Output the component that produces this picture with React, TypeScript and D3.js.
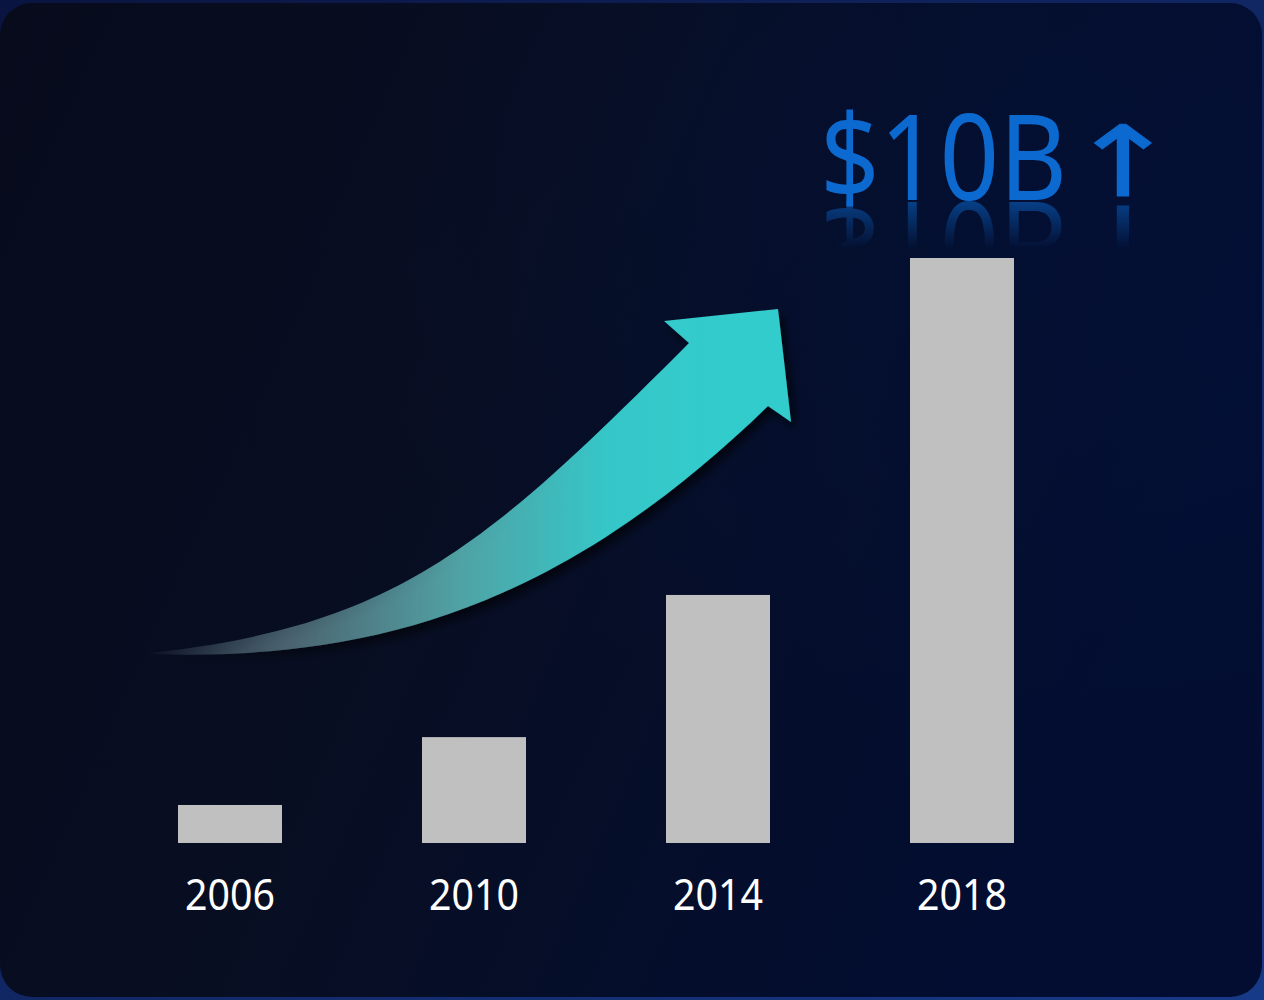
import * as d3 from "d3";
import React from "react";

// chart data
const years = ["2006", "2010", "2014", "2018"];
const revenue = [0.65, 1.81, 4.24, 10]; // $B
const headline = "$10B";

const W = 1264;
const H = 1000;
const baseY = 843; // bar baseline, pixels
const topY = 258;

export default function App() {
  const x = d3.scaleBand<string>().domain(years).range([38, 1154]).padding(0.5738);
  const y = d3.scaleLinear().domain([0, 10]).range([baseY, topY]);

  // decorative growth arrow
  const p = d3.path();
  p.moveTo(147, 653);
  p.bezierCurveTo(397, 628, 489, 543, 689, 343);
  p.lineTo(664, 321);
  p.lineTo(778, 309);
  p.lineTo(791, 422);
  p.lineTo(768, 406);
  p.bezierCurveTo(552, 616, 360, 661, 147, 654);
  p.closePath();
  const arrowPath = p.toString();

  const mirror = 201; // baseline of the headline reflection
  const upX = 1123;

  const headlineText = (
    <>
      <text x={820} y={200} fontSize={119} textLength={247} lengthAdjust="spacingAndGlyphs">
        {headline}
      </text>
      <text
        x={upX}
        y={196}
        fontSize={98}
        textAnchor="middle"
        fontFamily="'DejaVu Sans', sans-serif"
        stroke="#0b69cf"
        strokeWidth={1}
        transform={`translate(${upX},0) scale(1.35,1) translate(${-upX},0)`}
      >
        ↑
      </text>
    </>
  );

  return (
    <div style={{ position: "absolute", left: 0, top: 0 }}>
      <svg width={W} height={H} viewBox={`0 0 ${W} ${H}`} style={{ display: "block" }}>
        <defs>
          <linearGradient id="outer" x1="0" y1="0" x2="1" y2="1">
            <stop offset="0%" stopColor="#0a1440" />
            <stop offset="100%" stopColor="#173a88" />
          </linearGradient>
          <linearGradient id="card" x1="0" y1="0" x2="1" y2="0.35">
            <stop offset="0%" stopColor="#070b1c" />
            <stop offset="45%" stopColor="#080e22" />
            <stop offset="100%" stopColor="#020d31" />
          </linearGradient>
          <radialGradient id="glow" cx="0.85" cy="0.2" r="0.6">
            <stop offset="0%" stopColor="#03123a" stopOpacity="0.5" />
            <stop offset="100%" stopColor="#03123a" stopOpacity="0" />
          </radialGradient>
          <linearGradient id="arrowFill" gradientUnits="userSpaceOnUse" x1="145" y1="0" x2="720" y2="0">
            <stop offset="0%" stopColor="#8aa8b0" stopOpacity="0" />
            <stop offset="25%" stopColor="#6a8e98" stopOpacity="0.6" />
            <stop offset="55%" stopColor="#52a8aa" stopOpacity="0.95" />
            <stop offset="80%" stopColor="#36c6c8" />
            <stop offset="100%" stopColor="#33cccc" />
          </linearGradient>
          <filter id="shadow" x="-10%" y="-10%" width="130%" height="130%">
            <feDropShadow dx="5" dy="6" stdDeviation="5" floodColor="#000000" floodOpacity="0.65" />
          </filter>
          <linearGradient id="fade" gradientUnits="userSpaceOnUse" x1="0" y1={mirror} x2="0" y2={mirror + 48}>
            <stop offset="0%" stopColor="#fff" stopOpacity="0.55" />
            <stop offset="100%" stopColor="#fff" stopOpacity="0" />
          </linearGradient>
          <mask id="reflMask" maskUnits="userSpaceOnUse" x="0" y="0" width={W} height={H}>
            <rect x="0" y={mirror} width={W} height="60" fill="url(#fade)" />
          </mask>
        </defs>

        <rect x="0" y="0" width={W} height={H} fill="url(#outer)" />
        <rect x="0" y="3" width="1262" height="994" rx="32" fill="url(#card)" />
        <rect x="0" y="3" width="1262" height="994" rx="32" fill="url(#glow)" />

        {/* bars */}
        {years.map((yr, i) => (
          <rect
            key={yr}
            x={x(yr)}
            y={y(revenue[i])}
            width={x.bandwidth()}
            height={baseY - y(revenue[i])}
            fill="#c0c0c0"
          />
        ))}

        {/* year labels */}
        {years.map((yr) => (
          <text
            key={"l" + yr}
            x={(x(yr) || 0) + x.bandwidth() / 2}
            y={910}
            textAnchor="middle"
            fontFamily="'Noto Sans', sans-serif"
            fontSize={44}
            textLength={90}
            lengthAdjust="spacingAndGlyphs"
            fill="#ffffff"
          >
            {yr}
          </text>
        ))}

        {/* growth arrow */}
        <path d={arrowPath} fill="url(#arrowFill)" filter="url(#shadow)" />

        {/* headline with reflection */}
        <g fill="#0b69cf" fontFamily="'Noto Sans', sans-serif">
          {headlineText}
          <g mask="url(#reflMask)">
            <g transform={`translate(0, ${mirror * 2}) scale(1, -1)`}>{headlineText}</g>
          </g>
        </g>
      </svg>
    </div>
  );
}
